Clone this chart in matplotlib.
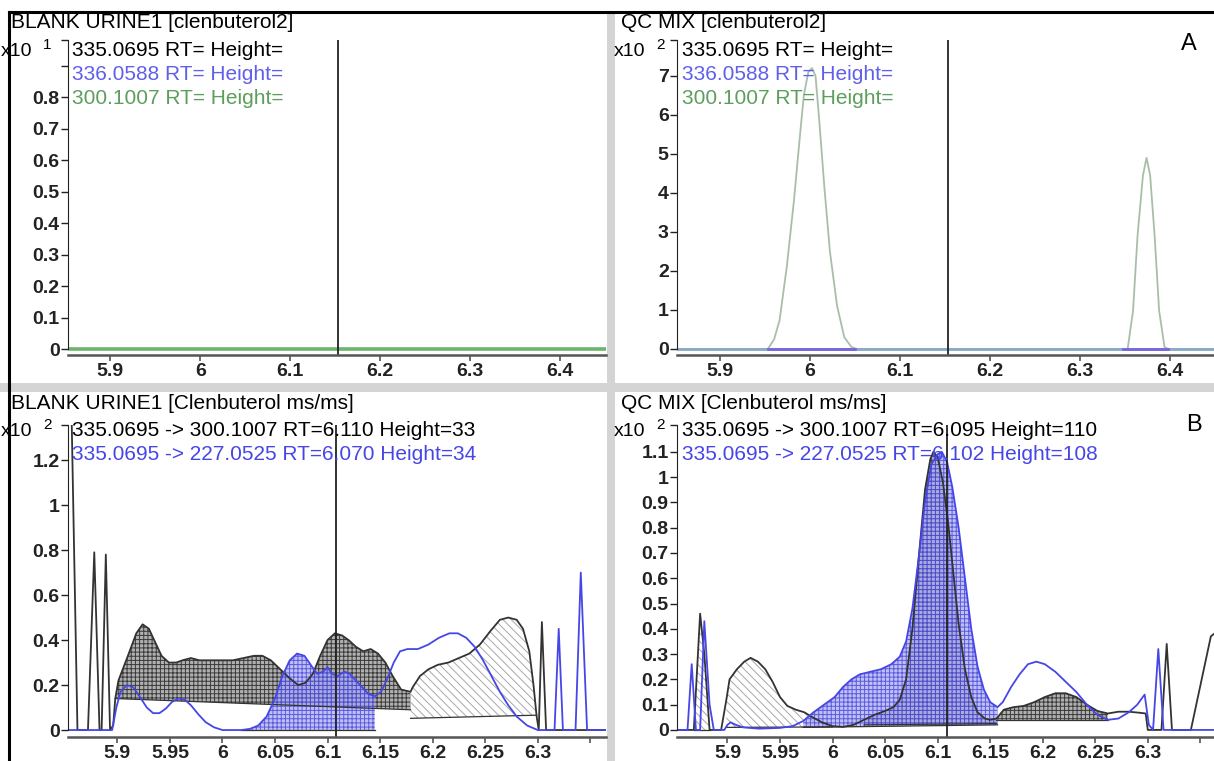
import matplotlib.pyplot as plt
from matplotlib.lines import Line2D
from matplotlib.patches import Rectangle

plt.rcParams['font.family'] = ['Liberation Sans', 'DejaVu Sans']
plt.rcParams['hatch.linewidth'] = 0.7

# ---------------------------------------------------------------------------
# Data (intensity in each panel's x10^n units)
# ---------------------------------------------------------------------------
# A, blank urine, full scan: all three traces sit on zero
blank_scan_rt = [5.85, 6.45]
blank_scan_int = [0.0, 0.0]

# A, QC mix, 300.1007 trace (two peaks)
qc_scan_rt = [5.85, 5.953, 5.96, 5.966, 5.974, 5.982, 5.988, 5.993, 5.998, 6.002,
              6.006, 6.01, 6.016, 6.022, 6.03, 6.038, 6.046, 6.052, 6.353, 6.359,
              6.364, 6.37, 6.374, 6.378, 6.383, 6.388, 6.394, 6.398, 6.45]
qc_scan_300 = [0, 0, 0.25, 0.73, 2.1, 3.8, 5.3, 6.5, 7.1, 7.2,
               7.0, 5.9, 4.1, 2.5, 1.1, 0.3, 0.05, 0, 0, 0.98,
               2.9, 4.45, 4.9, 4.45, 2.9, 0.98, 0.05, 0, 0]
# 336.0588 trace only shows as short segments under the peaks
qc_336_rt = [[5.953, 6.05], [6.348, 6.398]]

cursor_scan = 6.153

# B, blank urine, 335.0695 -> 300.1007
blank_300_rt = [5.853, 5.856, 5.862, 5.872, 5.878, 5.883, 5.885, 5.889, 5.893, 5.896,
                5.898, 5.901, 5.91, 5.918, 5.924, 5.93, 5.936, 5.942, 5.949, 5.956,
                5.962, 5.97, 5.978, 5.99, 6.0, 6.01, 6.02, 6.03, 6.038, 6.046,
                6.055, 6.064, 6.072, 6.079, 6.086, 6.093, 6.1, 6.107, 6.114, 6.12,
                6.127, 6.134, 6.141, 6.148, 6.155, 6.162, 6.17, 6.179, 6.181, 6.188,
                6.196, 6.205, 6.215, 6.225, 6.235, 6.245, 6.255, 6.264, 6.272, 6.28,
                6.286, 6.292, 6.296, 6.299, 6.301, 6.304, 6.308, 6.365]
blank_300_int = [1.5, 1.5, 0, 0, 0.79, 0, 0, 0.78, 0, 0.02,
                 0.14, 0.22, 0.33, 0.43, 0.47, 0.45, 0.39, 0.33, 0.30, 0.30,
                 0.31, 0.32, 0.31, 0.31, 0.31, 0.31, 0.32, 0.33, 0.33, 0.31,
                 0.27, 0.23, 0.20, 0.21, 0.25, 0.33, 0.40, 0.43, 0.42, 0.40,
                 0.37, 0.35, 0.36, 0.34, 0.30, 0.24, 0.18, 0.17, 0.19, 0.24,
                 0.27, 0.29, 0.30, 0.32, 0.34, 0.38, 0.44, 0.49, 0.50, 0.49,
                 0.45, 0.35, 0.20, 0.06, 0, 0.48, 0, 0]

# B, blank urine, 335.0695 -> 227.0525
blank_227_rt = [5.853, 5.895, 5.899, 5.903, 5.909, 5.915, 5.921, 5.928, 5.934, 5.94,
                5.946, 5.952, 5.958, 5.964, 5.97, 5.977, 5.984, 5.992, 6.0, 6.018,
                6.026, 6.034, 6.042, 6.05, 6.057, 6.064, 6.071, 6.078, 6.084, 6.09,
                6.096, 6.1, 6.104, 6.11, 6.116, 6.121, 6.127, 6.133, 6.139, 6.145,
                6.151, 6.157, 6.163, 6.169, 6.176, 6.186, 6.196, 6.206, 6.216, 6.224,
                6.232, 6.24, 6.248, 6.256, 6.264, 6.272, 6.28, 6.29, 6.3, 6.316,
                6.32, 6.324, 6.336, 6.341, 6.347, 6.365]
blank_227_int = [0, 0, 0.1, 0.17, 0.2, 0.19, 0.15, 0.1, 0.075, 0.075,
                 0.095, 0.125, 0.14, 0.135, 0.11, 0.07, 0.035, 0.012, 0, 0,
                 0.005, 0.02, 0.06, 0.14, 0.24, 0.31, 0.34, 0.33, 0.29, 0.25,
                 0.26, 0.28, 0.25, 0.24, 0.26, 0.25, 0.22, 0.19, 0.16, 0.15,
                 0.17, 0.23, 0.30, 0.35, 0.36, 0.36, 0.38, 0.41, 0.43, 0.43,
                 0.41, 0.37, 0.31, 0.24, 0.17, 0.11, 0.06, 0.02, 0, 0,
                 0.45, 0, 0, 0.70, 0, 0]

cursor_blank_ms = 6.108

# B, QC mix, 335.0695 -> 300.1007
qc_300_rt = [5.852, 5.868, 5.874, 5.878, 5.883, 5.894, 5.899, 5.902, 5.909, 5.916,
             5.922, 5.929, 5.936, 5.943, 5.95, 5.957, 5.965, 5.973, 5.981, 5.99,
             6.0, 6.01, 6.02, 6.03, 6.04, 6.05, 6.058, 6.064, 6.07, 6.076,
             6.082, 6.088, 6.093, 6.096, 6.1, 6.105, 6.11, 6.115, 6.12, 6.126,
             6.132, 6.138, 6.145, 6.15, 6.156, 6.163, 6.172, 6.182, 6.192, 6.202,
             6.212, 6.222, 6.232, 6.242, 6.252, 6.262, 6.272, 6.282, 6.292, 6.298,
             6.3, 6.313, 6.318, 6.323, 6.341, 6.36, 6.363]
qc_300_int = [0, 0, 0.46, 0.3, 0, 0, 0.12, 0.2, 0.24, 0.27,
              0.285, 0.27, 0.24, 0.19, 0.13, 0.095, 0.08, 0.07, 0.05, 0.03,
              0.015, 0.012, 0.02, 0.04, 0.06, 0.075, 0.09, 0.12, 0.2, 0.4,
              0.68, 0.95, 1.07, 1.1, 1.08, 0.98, 0.82, 0.62, 0.42, 0.24,
              0.13, 0.07, 0.045, 0.04, 0.045, 0.08, 0.09, 0.095, 0.11, 0.13,
              0.145, 0.145, 0.13, 0.1, 0.075, 0.065, 0.072, 0.072, 0.068, 0.065,
              0, 0, 0.34, 0, 0, 0.37, 0.38]

# B, QC mix, 335.0695 -> 227.0525
qc_227_rt = [5.852, 5.862, 5.866, 5.87, 5.874, 5.878, 5.883, 5.887, 5.897, 5.9,
             5.903, 5.908, 5.915, 5.93, 5.95, 5.962, 5.972, 5.982, 5.992, 6.002,
             6.01, 6.018, 6.026, 6.036, 6.046, 6.056, 6.064, 6.07, 6.076, 6.082,
             6.088, 6.094, 6.1, 6.104, 6.109, 6.114, 6.12, 6.126, 6.132, 6.138,
             6.144, 6.15, 6.157, 6.162, 6.17, 6.178, 6.186, 6.194, 6.202, 6.212,
             6.222, 6.232, 6.242, 6.252, 6.262, 6.272, 6.282, 6.29, 6.297, 6.301,
             6.305, 6.31, 6.315, 6.363]
qc_227_int = [0, 0, 0.26, 0, 0, 0.43, 0.1, 0, 0, 0.02,
              0.03, 0.02, 0.01, 0.005, 0.008, 0.015, 0.035, 0.07, 0.1, 0.13,
              0.17, 0.2, 0.22, 0.23, 0.24, 0.26, 0.29, 0.35, 0.48, 0.68,
              0.9, 1.05, 1.09, 1.1, 1.06, 0.96, 0.8, 0.6, 0.4, 0.25,
              0.16, 0.11, 0.09, 0.11, 0.17, 0.22, 0.26, 0.27, 0.26, 0.23,
              0.19, 0.15, 0.1, 0.06, 0.04, 0.045, 0.07, 0.1, 0.14, 0.02,
              0, 0.32, 0, 0]

cursor_qc_ms = 6.109

# integrated regions: (start RT, end RT, baseline at start, baseline at end)
blank_300_peaks_dark = [(5.898, 6.179, 0.14, 0.09)]
blank_300_peaks_light = [(6.179, 6.299, 0.052, 0.066)]
blank_227_peaks = [(6.018, 6.145, 0.0, 0.0)]
qc_300_peaks_dark = [(6.03, 6.156, 0.02, 0.025), (6.156, 6.262, 0.04, 0.04)]
qc_300_peaks_light = [(5.868, 5.883, 0.0, 0.0), (5.899, 6.0, 0.01, 0.012)]
qc_227_peaks = [(5.972, 6.157, 0.01, 0.02)]

W, H = 1214, 761
BLACK = '#333333'
BLUE = '#4646e8'
GREEN = '#5c9e5c'
FS = 15
TICK_FS = 14

dark_style = dict(facecolor='#b0b0b0', edgecolor='#3a3a3a', hatch='++++')
light_style = dict(facecolor='white', edgecolor='#a8a8a8', hatch='\\\\\\\\')
blue_style = dict(facecolor='#a8a8f0', edgecolor='#3434d8', hatch='++++', alpha=0.72)

fig = plt.figure(figsize=(W / 100, H / 100), dpi=100)
fig.patch.set_facecolor('white')


def px_axes(left, top, right, bottom):
    return fig.add_axes([left / W, 1 - bottom / H, (right - left) / W, (bottom - top) / H])


def ftext(x, y, s, **kw):
    kw.setdefault('fontsize', FS)
    fig.text(x / W, 1 - y / H, s, va='center', ha='left', **kw)


def setup(ax, xlim, ylim, xticks, xlabels, yticks, ylabels):
    ax.set_xlim(*xlim)
    ax.set_ylim(*ylim)
    ax.set_facecolor('none')
    for s in ('top', 'right'):
        ax.spines[s].set_visible(False)
    ax.spines['left'].set_bounds(0, ylim[1])
    ax.spines['left'].set_color('#222222')
    ax.spines['bottom'].set_color('#555555')
    ax.spines['bottom'].set_linewidth(1.8)
    ax.set_xticks(xticks)
    ax.set_xticklabels(xlabels, fontweight='bold')
    ax.set_yticks(list(yticks) + [ylim[1]])
    ax.set_yticklabels(list(ylabels) + [''], fontweight='bold')
    ax.tick_params(axis='x', direction='out', length=4, width=1.2, pad=2,
                   labelsize=TICK_FS, color='#555555', labelcolor='#222222')
    ax.tick_params(axis='y', direction='out', length=5, width=1, pad=1,
                   labelsize=TICK_FS, color='#222222', labelcolor='#222222')


def shade(ax, rt, inten, regions, style):
    for start, end, b0, b1 in regions:
        xs = [x for x in rt if start <= x <= end]
        ys = [y for x, y in zip(rt, inten) if start <= x <= end]
        ax.fill(xs + [end, start], ys + [b1, b0], lw=0, **style)
        ax.plot([start, end], [b0, b1], color=BLACK, lw=0.9)


# ---------------- frame and panel separators ----------------
fig.add_artist(Rectangle((0, 1 - 392 / H), 1, 9 / H, transform=fig.transFigure,
                         color='#d4d4d4', lw=0, zorder=0))
fig.add_artist(Rectangle((607 / W, 0), 8 / W, 1 - 12 / H, transform=fig.transFigure,
                         color='#d4d4d4', lw=0, zorder=0))
fig.add_artist(Line2D([9 / W, 1], [1 - 12 / H, 1 - 12 / H], color='black', lw=2.2))
fig.add_artist(Line2D([9 / W, 9 / W], [0, 1 - 12 / H], color='black', lw=2.2))

# ---------------- A: blank urine, scan ----------------
ax1 = px_axes(68, 40, 606, 355)
setup(ax1, (5.853, 6.451), (-0.019, 0.981),
      [5.9, 6.0, 6.1, 6.2, 6.3, 6.4], ['5.9', '6', '6.1', '6.2', '6.3', '6.4'],
      [0, 0.1, 0.2, 0.3, 0.4, 0.5, 0.6, 0.7, 0.8, 0.9],
      ['0', '0.1', '0.2', '0.3', '0.4', '0.5', '0.6', '0.7', '0.8', ''])
ax1.plot(blank_scan_rt, blank_scan_int, color='#6cb46c', lw=2.6)
ax1.axvline(cursor_scan, color='#222222', lw=1.3)

# ---------------- A: QC mix, scan ----------------
ax2 = px_axes(677, 40, 1214, 355)
setup(ax2, (5.852, 6.449), (-0.154, 7.92),
      [5.9, 6.0, 6.1, 6.2, 6.3, 6.4], ['5.9', '6', '6.1', '6.2', '6.3', '6.4'],
      range(8), [str(i) for i in range(8)])
ax2.plot(qc_scan_rt, qc_scan_300, color='#a9bea9', lw=1.3)
ax2.plot(blank_scan_rt, blank_scan_int, color='#86a9c6', lw=2.0)
for seg in qc_336_rt:
    ax2.plot(seg, [0, 0], color='#7766e0', lw=2.0)
ax2.axvline(cursor_scan, color='#222222', lw=1.3)

# ---------------- B: blank urine, ms/ms ----------------
ms_ticks = [5.9, 5.95, 6.0, 6.05, 6.1, 6.15, 6.2, 6.25, 6.3, 6.35]
ms_labels = ['5.9', '5.95', '6', '6.05', '6.1', '6.15', '6.2', '6.25', '6.3', '']

ax3 = px_axes(68, 425, 606, 737)
setup(ax3, (5.853, 6.365), (-0.031, 1.356), ms_ticks, ms_labels,
      [0, 0.2, 0.4, 0.6, 0.8, 1.0, 1.2], ['0', '0.2', '0.4', '0.6', '0.8', '1', '1.2'])
shade(ax3, blank_300_rt, blank_300_int, blank_300_peaks_dark, dark_style)
shade(ax3, blank_300_rt, blank_300_int, blank_300_peaks_light, light_style)
shade(ax3, blank_227_rt, blank_227_int, blank_227_peaks, blue_style)
ax3.plot(blank_300_rt, blank_300_int, color=BLACK, lw=1.3)
ax3.plot(blank_227_rt, blank_227_int, color=BLUE, lw=1.3)
ax3.axvline(cursor_blank_ms, color='#222222', lw=1.3)

# ---------------- B: QC mix, ms/ms ----------------
ax4 = px_axes(677, 425, 1214, 737)
setup(ax4, (5.852, 6.363), (-0.028, 1.206), ms_ticks, ms_labels,
      [0, 0.1, 0.2, 0.3, 0.4, 0.5, 0.6, 0.7, 0.8, 0.9, 1.0, 1.1],
      ['0', '0.1', '0.2', '0.3', '0.4', '0.5', '0.6', '0.7', '0.8', '0.9', '1', '1.1'])
shade(ax4, qc_300_rt, qc_300_int, qc_300_peaks_light, light_style)
shade(ax4, qc_300_rt, qc_300_int, qc_300_peaks_dark, dark_style)
shade(ax4, qc_227_rt, qc_227_int, qc_227_peaks, blue_style)
ax4.plot(qc_300_rt, qc_300_int, color=BLACK, lw=1.3)
ax4.plot(qc_227_rt, qc_227_int, color=BLUE, lw=1.3)
ax4.axvline(cursor_qc_ms, color='#222222', lw=1.3)

# ---------------- titles, scale factors and legends ----------------
ftext(11, 22, 'BLANK URINE1 [clenbuterol2]')
ftext(621, 22, 'QC MIX [clenbuterol2]')
ftext(11, 404, 'BLANK URINE1 [Clenbuterol ms/ms]')
ftext(621, 404, 'QC MIX [Clenbuterol ms/ms]')

for x0, y0, exp in [(1, 52, '1'), (614, 52, '2'), (1, 432, '2'), (614, 432, '2')]:
    ftext(x0, y0, 'x10', fontsize=14)
    ftext(x0 + 42, y0 - 7, exp, fontsize=11)

scan_legend = [('335.0695 RT= Height=', 'black'),
               ('336.0588 RT= Height=', '#5f5fec'),
               ('300.1007 RT= Height=', GREEN)]
for i, (s, c) in enumerate(scan_legend):
    ftext(72, 50 + 24 * i, s, color=c)
    ftext(682, 50 + 24 * i, s, color=c)

ftext(72, 431, '335.0695 -> 300.1007 RT=6.110 Height=33', color='black')
ftext(72, 454, '335.0695 -> 227.0525 RT=6.070 Height=34', color=BLUE)
ftext(682, 431, '335.0695 -> 300.1007 RT=6.095 Height=110', color='black')
ftext(682, 454, '335.0695 -> 227.0525 RT=6.102 Height=108', color=BLUE)

ftext(1181, 44, 'A', fontsize=17)
ftext(1186, 425, 'B', fontsize=17)

fig.savefig('out.png', dpi=100, facecolor='white')
